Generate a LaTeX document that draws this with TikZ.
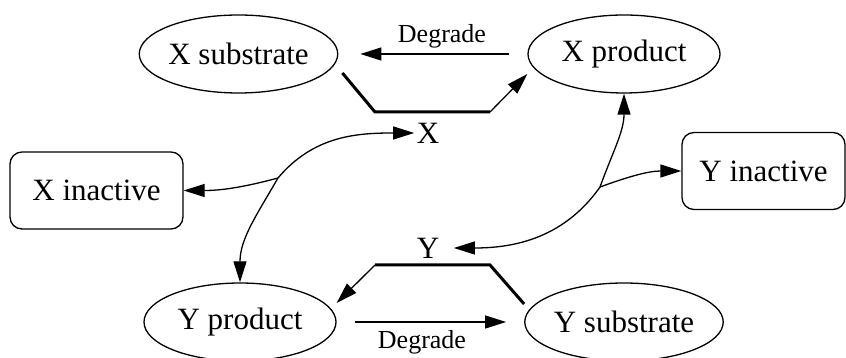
\documentclass[tikz,border=0pt]{standalone}
\usepackage{fontspec}
\setmainfont{Liberation Serif}
\usetikzlibrary{shapes.geometric, arrows.meta}
\tikzset{every node/.append style={font=\fontsize{15.5}{18}\selectfont}}
\tikzset{
  species/.style={draw, ellipse, minimum width=96pt, minimum height=39pt, inner sep=0pt},
  pool/.style={draw, rounded corners=6pt, minimum width=86.5pt, minimum height=38.5pt},
  lbl/.style={inner sep=1pt},
  small/.style={font=\fontsize{13}{15}\selectfont},
  heavy/.style={line width=1.5pt},
}

\begin{document}
\begin{tikzpicture}[x=0.5pt, y=0.5pt, line width=0.65pt, >={Triangle[length=10.5pt, width=6.5pt]}]
    \useasboundingbox (0,0) rectangle (846,358);
    \node[species] (xsub) at (238.5,304) {X substrate};
    \node[species] (xprod) at (624,304) {X product};
    \node[species] (yprod) at (240,36) {Y product};
    \node[species] (ysub) at (624,36) {Y substrate};
    \node[pool] (xinact) at (96.5,167.5) {X inactive};
    \node[pool, minimum width=81.5pt] (yinact) at (763.5,187) {Y inactive};
    \node[lbl] (xlab) at (428,225) {X};
    \node[lbl] (ylab) at (428,110) {Y};
    \node[small] (dgx) at (442,322) {Degrade};
    \node[small] (dgy) at (422,16) {Degrade};

    \draw[->, shorten <=9pt, shorten >=11pt] (xprod.west) -- (xsub.east);
    \draw[->, shorten <=9pt, shorten >=9pt] (yprod.east) -- (ysub.west);

    \coordinate (xb) at (375,246);
    \coordinate (xc) at (490,246);
    \draw[heavy] ([shift={(2pt,-9.5pt)}]xsub.east) -- (xb) -- (xc);
    \draw[->] (xc) -- ([yshift=-10pt]xprod.west);
    \coordinate (yb) at (490,93);
    \coordinate (yc) at (375,93);
    \draw[heavy] ([yshift=9pt]ysub.west) -- (yb) -- (yc);
    \draw[->] (yc) -- ([yshift=9.5pt]yprod.east);

    \coordinate (jx) at (278,180);
    \draw[->] (jx) to[out=50, in=180] (xlab.west);
    \draw[->] (jx) to[out=240, in=90] (yprod.north);
    \draw[->] (jx) to[out=195, in=0] (xinact.east);
    \coordinate (jy) at (600,171);
    \draw[->] (jy) to[out=70, in=-90] (xprod.south);
    \draw[->, shorten >=6pt] (jy) to[out=235, in=0] (ylab.east);
    \draw[->] (jy) to[out=20, in=180] (yinact.west);
\end{tikzpicture}
\end{document}
